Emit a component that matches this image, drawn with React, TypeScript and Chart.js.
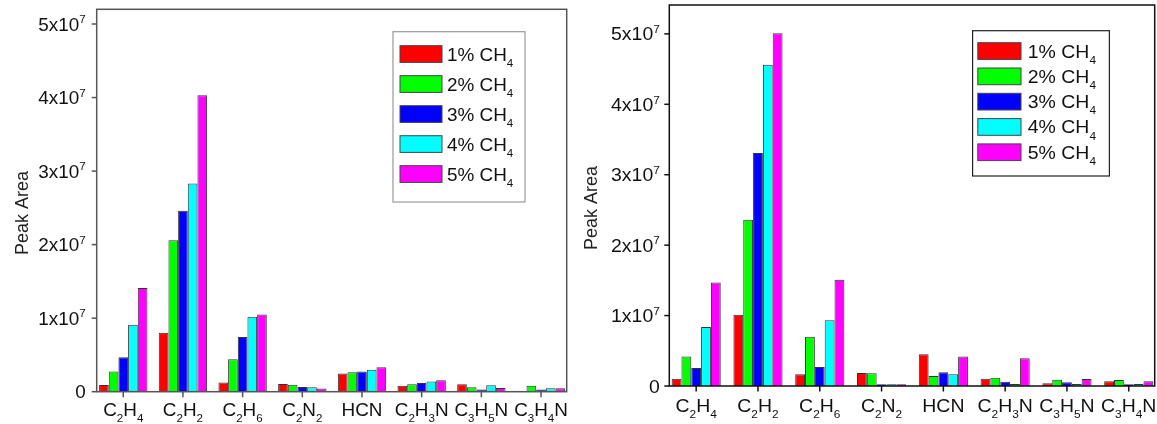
import React, { useEffect, useRef } from 'react';
import { Chart, registerables } from 'chart.js';

Chart.register(...registerables);

// ---------- data ----------
const categories = ['C_2H_4', 'C_2H_2', 'C_2H_6', 'C_2N_2', 'HCN', 'C_2H_3N', 'C_3H_5N', 'C_3H_4N'];
const seriesNames = ['1% CH_4', '2% CH_4', '3% CH_4', '4% CH_4', '5% CH_4'];
const yTickValues = [0, 1e7, 2e7, 3e7, 4e7, 5e7];
const yTickLabels = ['0', '1x10^7', '2x10^7', '3x10^7', '4x10^7', '5x10^7'];
const yAxisTitle = 'Peak Area';

// left panel
const leftCH4_1 = [0.9e6, 8.0e6, 1.25e6, 1.05e6, 2.47e6, 0.8e6, 1.02e6, 0];
const leftCH4_2 = [2.75e6, 20.6e6, 4.4e6, 0.93e6, 2.65e6, 1.02e6, 0.6e6, 0.8e6];
const leftCH4_3 = [4.7e6, 24.6e6, 7.45e6, 0.65e6, 2.75e6, 1.2e6, 0.3e6, 0.3e6];
const leftCH4_4 = [9.1e6, 28.3e6, 10.2e6, 0.6e6, 2.97e6, 1.39e6, 0.88e6, 0.48e6];
const leftCH4_5 = [14.1e6, 40.3e6, 10.5e6, 0.43e6, 3.33e6, 1.56e6, 0.52e6, 0.48e6];

// right panel
const rightCH4_1 = [1.04e6, 10.1e6, 1.66e6, 1.85e6, 4.5e6, 1.04e6, 0.38e6, 0.66e6];
const rightCH4_2 = [4.2e6, 23.6e6, 7.0e6, 1.8e6, 1.42e6, 1.18e6, 0.9e6, 0.85e6];
const rightCH4_3 = [2.56e6, 33.1e6, 2.7e6, 0.25e6, 1.94e6, 0.62e6, 0.52e6, 0.25e6];
const rightCH4_4 = [8.38e6, 45.6e6, 9.33e6, 0.25e6, 1.66e6, 0.3e6, 0.3e6, 0.3e6];
const rightCH4_5 = [14.7e6, 50.1e6, 15.1e6, 0.25e6, 4.2e6, 3.93e6, 0.99e6, 0.66e6];

// ---------- styles ----------
const barColors = ['#FF0000', '#00FF00', '#0000FF', '#00FFFF', '#FF00FF'];
const FONT = '"Liberation Sans", Arial, Helvetica, sans-serif';

function drawRich(
  ctx: CanvasRenderingContext2D,
  text: string,
  x: number,
  y: number,
  align: 'left' | 'center' | 'right',
  size: number,
  stretch: number
) {
  const segs: { t: string; k: number }[] = [];
  for (let i = 0; i < text.length; i++) {
    const c = text[i];
    if ((c === '_' || c === '^') && i + 1 < text.length) {
      segs.push({ t: text[i + 1], k: c === '_' ? 1 : -1 });
      i++;
    } else if (segs.length && segs[segs.length - 1].k === 0) {
      segs[segs.length - 1].t += c;
    } else {
      segs.push({ t: c, k: 0 });
    }
  }
  const main = `${size}px ${FONT}`;
  const small = `${Math.round(size * 0.62)}px ${FONT}`;
  let w = 0;
  const ws = segs.map((s) => {
    ctx.font = s.k ? small : main;
    const m = ctx.measureText(s.t).width * stretch;
    w += m;
    return m;
  });
  let cx = align === 'left' ? x : align === 'center' ? x - w / 2 : x - w;
  ctx.textAlign = 'left';
  ctx.textBaseline = 'alphabetic';
  segs.forEach((s, i) => {
    ctx.font = s.k ? small : main;
    const dy = s.k === 1 ? size * 0.34 : s.k === -1 ? -size * 0.4 : 0;
    ctx.save();
    ctx.translate(cx, y + dy);
    ctx.scale(stretch, 1);
    ctx.fillText(s.t, 0, 0);
    ctx.restore();
    cx += ws[i];
  });
}

interface PanelCfg {
  offsetX: number;
  width: number;
  height: number;
  area: { l: number; r: number; t: number; b: number };
  yMax: number;
  xMin: number;
  xMax: number;
  catPct: number;
  series: number[][];
  frameColor: string;
  stretch: number;
  yLabelGap: number;
  xLabelOffset: number;
  titleX: number;
  titleY: number;
  legend: {
    x: number; y: number; w: number; h: number;
    swX: number; swW: number; swH: number;
    row0: number; step: number; textX: number; border: string;
  };
}

const leftPanel: PanelCfg = {
  offsetX: 0,
  width: 580,
  height: 424,
  area: { l: 96.7, r: 566.7, t: 9.3, b: 391.7 },
  yMax: 5.2e7,
  xMin: -0.445,
  xMax: 7.43,
  catPct: 0.81,
  series: [leftCH4_1, leftCH4_2, leftCH4_3, leftCH4_4, leftCH4_5],
  frameColor: '#555',
  stretch: 1.05,
  yLabelGap: 11,
  xLabelOffset: 24.3,
  titleX: 28,
  titleY: 213,
  legend: { x: 393, y: 31.7, w: 132, h: 170.3, swX: 400, swW: 42, swH: 16.7, row0: 45.7, step: 30, textX: 447, border: '#999' },
};

const rightPanel: PanelCfg = {
  offsetX: 580,
  width: 577,
  height: 424,
  area: { l: 89.3, r: 574.7, t: 5, b: 386 },
  yMax: 5.41e7,
  xMin: -0.435,
  xMax: 7.42,
  catPct: 0.795,
  series: [rightCH4_1, rightCH4_2, rightCH4_3, rightCH4_4, rightCH4_5],
  frameColor: '#111',
  stretch: 1.08,
  yLabelGap: 9.5,
  xLabelOffset: 25.7,
  titleX: 17,
  titleY: 208,
  legend: { x: 392.6, y: 30.7, w: 136.8, h: 145.3, swX: 397.8, swW: 43.2, swH: 16.7, row0: 42.7, step: 25.3, textX: 447.8, border: '#222' },
};

function Panel({ cfg }: { cfg: PanelCfg }) {
  const ref = useRef<HTMLCanvasElement | null>(null);
  useEffect(() => {
    if (!ref.current) return;
    const decor = {
      id: 'decor',
      afterDraw(chart: any) {
        const ctx: CanvasRenderingContext2D = chart.ctx;
        const { left, right, top, bottom } = chart.chartArea;
        const xs = chart.scales.x;
        const ys = chart.scales.y;
        ctx.save();
        ctx.strokeStyle = cfg.frameColor;
        ctx.fillStyle = '#111';
        ctx.lineWidth = 1.5;
        ctx.strokeRect(left, top, right - left, bottom - top);
        // y ticks
        yTickValues.forEach((v, i) => {
          const y = ys.getPixelForValue(v);
          ctx.beginPath();
          ctx.moveTo(left - 5, y);
          ctx.lineTo(left, y);
          ctx.stroke();
          drawRich(ctx, yTickLabels[i], left - cfg.yLabelGap, y + 6.5, 'right', 18, cfg.stretch);
        });
        // x ticks
        categories.forEach((c, i) => {
          const x = xs.getPixelForValue(i);
          ctx.beginPath();
          ctx.moveTo(x, bottom);
          ctx.lineTo(x, bottom + 5.5);
          ctx.stroke();
          drawRich(ctx, c, x, bottom + cfg.xLabelOffset, 'center', 18, cfg.stretch);
        });
        // y title
        ctx.save();
        ctx.translate(cfg.titleX, cfg.titleY);
        ctx.rotate(-Math.PI / 2);
        ctx.font = `18px ${FONT}`;
        ctx.textAlign = 'center';
        ctx.textBaseline = 'alphabetic';
        ctx.fillStyle = '#222';
        ctx.fillText(yAxisTitle, 0, 0);
        ctx.restore();
        // legend
        const L = cfg.legend;
        ctx.fillStyle = '#fff';
        ctx.fillRect(L.x, L.y, L.w, L.h);
        ctx.lineWidth = 1.2;
        ctx.strokeStyle = L.border;
        ctx.strokeRect(L.x, L.y, L.w, L.h);
        seriesNames.forEach((n, i) => {
          const sy = L.row0 + i * L.step;
          ctx.fillStyle = barColors[i];
          ctx.fillRect(L.swX, sy, L.swW, L.swH);
          ctx.strokeStyle = '#444';
          ctx.lineWidth = 1;
          ctx.strokeRect(L.swX, sy, L.swW, L.swH);
          ctx.fillStyle = '#111';
          drawRich(ctx, n, L.textX, sy + L.swH / 2 + 6.5, 'left', 18, cfg.stretch);
        });
        ctx.restore();
      },
    };
    const chart = new Chart(ref.current, {
      type: 'bar',
      data: {
        datasets: cfg.series.map((vals, si) => ({
          label: seriesNames[si],
          data: vals.map((v, i) => ({ x: i, y: v })),
          backgroundColor: barColors[si],
          borderColor: '#333',
          borderWidth: 1,
          categoryPercentage: cfg.catPct,
          barPercentage: 1,
        })),
      },
      options: {
        responsive: false,
        animation: false,
        devicePixelRatio: 1,
        layout: {
          padding: {
            left: cfg.area.l,
            right: cfg.width - cfg.area.r,
            top: cfg.area.t,
            bottom: cfg.height - cfg.area.b,
          },
        },
        plugins: { legend: { display: false }, tooltip: { enabled: false } },
        scales: {
          x: { type: 'linear', display: false, min: cfg.xMin, max: cfg.xMax, offset: false },
          y: { type: 'linear', display: false, min: 0, max: cfg.yMax },
        },
      } as any,
      plugins: [decor],
    });
    return () => chart.destroy();
  }, [cfg]);
  return (
    <canvas
      ref={ref}
      width={cfg.width}
      height={cfg.height}
      style={{ position: 'absolute', left: cfg.offsetX, top: 0, width: cfg.width, height: cfg.height, display: 'block' }}
    />
  );
}

export default function App() {
  return (
    <div style={{ position: 'fixed', left: 0, top: 0, width: 1157, height: 424, background: '#fff', overflow: 'hidden' }}>
      <Panel cfg={leftPanel} />
      <Panel cfg={rightPanel} />
    </div>
  );
}
